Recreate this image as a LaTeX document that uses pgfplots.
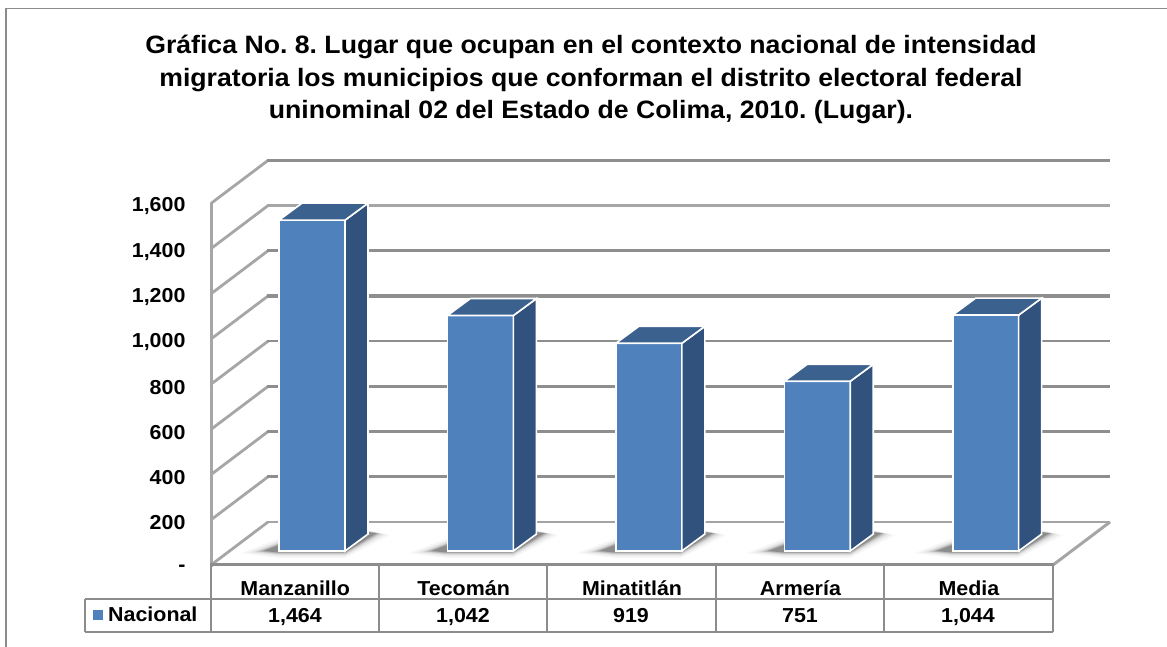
\documentclass[border=0pt]{standalone}
\usepackage{pgfplots}
\pgfplotsset{compat=1.18}
\usepackage{fontspec}
\setmainfont{Liberation Sans}[FakeStretch=1.06]
\frenchspacing
\definecolor{barfront}{HTML}{4F81BD}
\definecolor{barside}{HTML}{30527C}
\definecolor{bartop}{HTML}{3B618F}
\definecolor{gridc}{HTML}{8E8E8E}
\definecolor{wallc}{HTML}{A6A6A6}
\definecolor{tablec}{HTML}{8C8C8C}
\newcommand{\shadowat}[1]{%
  \foreach \g/\o in {22/0.03,16/0.04,11/0.05,7/0.08,4/0.12,0/0.22}{%
    \fill[black,opacity=\o,line join=round] (#1-16-1.0*\g,551+0.1*\g) -- (#1,552.5+0.25*\g) -- (#1+66,552.5+0.25*\g) -- (#1+98+0.6*\g,533+0.1*\g) -- (#1+88,532-0.1*\g) -- (#1,545-0.3*\g) -- cycle;}%
}
\begin{document}
\begin{tikzpicture}
\useasboundingbox (0,0) rectangle (1167pt,647pt);
\fill[white] (0,0) rectangle (1167pt,647pt);
\begin{scope}[x=1pt,y=-1pt,shift={(0pt,647pt)}]
  % outer frame
  \draw[tablec,line width=1.6pt] (6,647) -- (6,8.5) -- (1167,8.5);
  % title
  \node[align=center,font=\bfseries\fontsize{25.14}{32.5}\selectfont,anchor=center] at (591,79.5)
    {Gráfica No. 8. Lugar que ocupan en el contexto nacional de intensidad\\
     migratoria los municipios que conforman el distrito electoral federal\\
     uninominal 02 del Estado de Colima, 2010. (Lugar).};
  % walls and gridlines
  \foreach \i in {0,...,8}{
    \pgfmathsetmacro{\yf}{565-45.2*\i}
    \pgfmathsetmacro{\yb}{522-45.2*\i}
    \draw[wallc,line width=2.8pt] (211,\yf) -- (268,\yb);
  }
  \foreach \i/\c/\w in {1/gridc/2.6,2/gridc/2.6,3/gridc/3.0,4/gridc/2.6,5/gridc/3.2,6/gridc/3.2,7/wallc/2.2,8/gridc/3.0}{
    \pgfmathsetmacro{\yb}{522-45.2*\i}
    \draw[\c,line width=\w pt] (267,\yb) -- (1110,\yb);
  }
  \draw[gridc!80,line width=1.6pt] (267,522) -- (1110,522);
  \draw[wallc,line width=3pt] (211,203) -- (211,567);
  \draw[wallc,line width=3pt] (1053,565) -- (1110,522);
  % shadows on the floor
  \shadowat{279}\shadowat{447}\shadowat{615}\shadowat{784}\shadowat{952}
  % floor front edge and table
  \draw[tablec,line width=3pt] (210,565) -- (1054,565);
  \draw[tablec,line width=1.6pt] (85,599) -- (1053,599);
  \draw[tablec,line width=1.6pt] (85,632) -- (1053,632);
  \foreach \x in {85,211,379,547,716,884,1053}{
    \ifnum\x=85 \draw[tablec,line width=1.6pt] (\x,599) -- (\x,632);
    \else \draw[tablec,line width=1.6pt] (\x,565) -- (\x,632); \fi
  }
  \fill[barfront] (93,610) rectangle (103,620);
  \node[font=\bfseries\fontsize{20.2}{22}\selectfont,anchor=base west,inner sep=0pt] at (108,622) {Nacional};
  \foreach \x/\v in {295/{1,464},463/{1,042},631/919,800/751,968/{1,044}}{
    \node[font=\bfseries\fontsize{20.2}{22}\selectfont,anchor=base,inner sep=0pt] at (\x,623) {\v};
  }
\end{scope}
\begin{axis}[
  at={(211pt,82pt)},anchor=south west,
  scale only axis,width=899pt,height=405pt,
  xmin=-0.5,xmax=4.838,ymin=0,ymax=1792,
  clip=false,
  axis line style={draw=none},
  tick style={draw=none},
  xtick={0,1,2,3,4},
  xticklabels={Manzanillo,Tecomán,Minatitlán,Armería,Media},
  ytick={0,200,400,600,800,1000,1200,1400,1600},
  yticklabels={-,200,400,600,800,{1,000},{1,200},{1,400},{1,600}},
  tick label style={font=\bfseries\fontsize{20.2}{22}\selectfont},
  x tick label style={anchor=base,yshift=-30.5pt},
  y tick label style={anchor=east,xshift=-22pt,yshift=-3pt},
  ytick pos=left,xtick pos=bottom,
]
% front faces: Nacional
\addplot[ybar,bar shift=0pt,bar width=66pt,yshift=14pt,fill=barfront,draw=white,line width=1.6pt]
  coordinates {(0.1,1464)(1.1,1042)(2.1,919)(3.1,751)(4.1,1044)};
% side faces
\addplot[fill=barside,draw=white,line width=1.6pt,yshift=14pt] coordinates {(0.2957,0)(0.4323,75)(0.4323,1539)(0.2957,1464)} --cycle;
\addplot[fill=barside,draw=white,line width=1.6pt,yshift=14pt] coordinates {(1.2957,0)(1.4323,75)(1.4323,1117)(1.2957,1042)} --cycle;
\addplot[fill=barside,draw=white,line width=1.6pt,yshift=14pt] coordinates {(2.2957,0)(2.4323,75)(2.4323,994)(2.2957,919)} --cycle;
\addplot[fill=barside,draw=white,line width=1.6pt,yshift=14pt] coordinates {(3.2957,0)(3.4323,75)(3.4323,826)(3.2957,751)} --cycle;
\addplot[fill=barside,draw=white,line width=1.6pt,yshift=14pt] coordinates {(4.2957,0)(4.4323,75)(4.4323,1119)(4.2957,1044)} --cycle;
% top faces
\addplot[fill=bartop,draw=white,line width=1.6pt,yshift=14pt] coordinates {(-0.0962,1464)(0.2957,1464)(0.4323,1539)(0.0404,1539)} --cycle;
\addplot[fill=bartop,draw=white,line width=1.6pt,yshift=14pt] coordinates {(0.9038,1042)(1.2957,1042)(1.4323,1117)(1.0404,1117)} --cycle;
\addplot[fill=bartop,draw=white,line width=1.6pt,yshift=14pt] coordinates {(1.9038,919)(2.2957,919)(2.4323,994)(2.0404,994)} --cycle;
\addplot[fill=bartop,draw=white,line width=1.6pt,yshift=14pt] coordinates {(2.9038,751)(3.2957,751)(3.4323,826)(3.0404,826)} --cycle;
\addplot[fill=bartop,draw=white,line width=1.6pt,yshift=14pt] coordinates {(3.9038,1044)(4.2957,1044)(4.4323,1119)(4.0404,1119)} --cycle;
\end{axis}
\end{tikzpicture}
\end{document}
